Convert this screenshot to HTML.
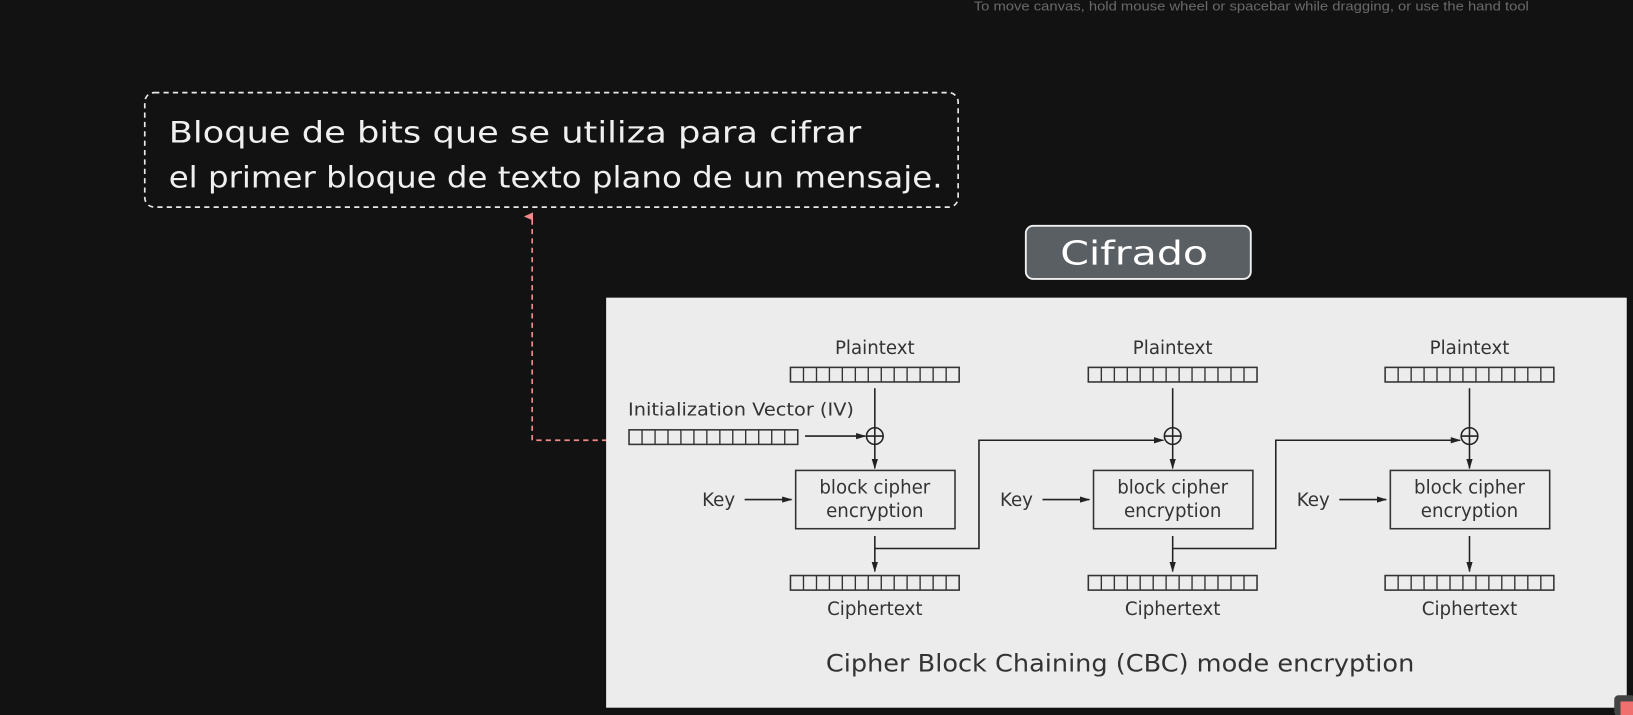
<!DOCTYPE html>
<html><head><meta charset="utf-8"><style>
html,body{margin:0;padding:0;background:#121212;overflow:hidden}
svg{display:block}
</style></head><body>
<svg width="1633" height="715" viewBox="0 0 1568 687" preserveAspectRatio="none" xmlns="http://www.w3.org/2000/svg">
<defs>
<marker id="a" markerWidth="10" markerHeight="8" refX="9" refY="4" orient="auto" markerUnits="userSpaceOnUse"><path d="M0,1 L10,4 L0,7 z" fill="#222"/></marker>
<marker id="r" markerWidth="10" markerHeight="10" refX="5" refY="9" orient="auto-start-reverse" markerUnits="userSpaceOnUse"><path d="M1,10 L5,1 L9,10 z" fill="#f08a8a"/></marker>
<g id="reg"><rect x="0" y="0" width="162" height="14" fill="none" stroke="#333" stroke-width="1.5"/>
<path d="M12.5,0v14M25,0v14M37.4,0v14M49.8,0v14M62.3,0v14M74.7,0v14M87.2,0v14M99.6,0v14M112,0v14M124.5,0v14M137,0v14M149.5,0v14" stroke="#333" stroke-width="1.3"/></g>
<g id="col" font-family="DejaVu Sans, sans-serif" font-size="17.5" fill="#333">
<text x="0" y="340" text-anchor="middle">Plaintext</text>
<use href="#reg" x="-81" y="353"/>
<line x1="0" y1="373" x2="0" y2="411" stroke="#222" stroke-width="1.5"/>
<circle cx="0" cy="419" r="8" fill="none" stroke="#222" stroke-width="1.5"/>
<line x1="-8" y1="419" x2="8" y2="419" stroke="#222" stroke-width="1.5"/>
<line x1="0" y1="411" x2="0" y2="450" stroke="#222" stroke-width="1.5" marker-end="url(#a)"/>
<rect x="-76" y="452" width="153" height="56" fill="none" stroke="#333" stroke-width="1.5"/>
<text x="0" y="474" text-anchor="middle">block cipher</text>
<text x="0" y="497" text-anchor="middle">encryption</text>
<text x="-150" y="486" text-anchor="middle">Key</text>
<line x1="-125" y1="480" x2="-80" y2="480" stroke="#222" stroke-width="1.5" marker-end="url(#a)"/>
<line x1="0" y1="515" x2="0" y2="549" stroke="#222" stroke-width="1.5" marker-end="url(#a)"/>
<use href="#reg" x="-81" y="553"/>
<text x="0" y="591" text-anchor="middle">Ciphertext</text>
</g>
</defs>
<text x="935" y="10" font-family="Liberation Sans, sans-serif" font-size="12" fill="#6a6a6a" textLength="533" lengthAdjust="spacingAndGlyphs">To move canvas, hold mouse wheel or spacebar while dragging, or use the hand tool</text>
<rect x="139" y="89" width="781" height="110" rx="9" fill="none" stroke="#e8e8e8" stroke-width="1.6" stroke-dasharray="5,4"/>
<text x="162" y="137" font-family="DejaVu Sans, sans-serif" font-size="28" fill="#f0f0f0" textLength="665" lengthAdjust="spacingAndGlyphs">Bloque de bits que se utiliza para cifrar</text>
<text x="162" y="180" font-family="DejaVu Sans, sans-serif" font-size="28" fill="#f0f0f0" textLength="743" lengthAdjust="spacingAndGlyphs">el primer bloque de texto plano de un mensaje.</text>
<path d="M583,423 H511 V208" fill="none" stroke="#f08a8a" stroke-width="1.6" stroke-dasharray="5,4" marker-end="url(#r)"/>
<rect x="985" y="217" width="216" height="51" rx="7" fill="#5a5f63" stroke="#f0f0f0" stroke-width="1.8"/>
<text x="1018" y="254" font-family="DejaVu Sans, sans-serif" font-size="32" fill="#fff" textLength="142" lengthAdjust="spacingAndGlyphs">Cifrado</text>
<rect x="582" y="286" width="980" height="394" fill="#ececec"/>
<use href="#col" x="840"/>
<use href="#col" x="1126"/>
<use href="#col" x="1411"/>
<text x="603" y="399" font-family="DejaVu Sans, sans-serif" font-size="17" fill="#333" textLength="217" lengthAdjust="spacingAndGlyphs">Initialization Vector (IV)</text>
<use href="#reg" x="604" y="413"/>
<line x1="773" y1="419" x2="831" y2="419" stroke="#222" stroke-width="1.5" marker-end="url(#a)"/>
<path d="M840,527 H940 V423 H1117" fill="none" stroke="#222" stroke-width="1.5" marker-end="url(#a)"/>
<path d="M1126,527 H1225 V423 H1402" fill="none" stroke="#222" stroke-width="1.5" marker-end="url(#a)"/>
<text x="793" y="645" font-family="DejaVu Sans, sans-serif" font-size="23" fill="#333" textLength="565" lengthAdjust="spacingAndGlyphs">Cipher Block Chaining (CBC) mode encryption</text>
<rect x="1550" y="668" width="20" height="20" rx="4" fill="#444"/>
<rect x="1556" y="674" width="14" height="14" fill="#f07070"/>
</svg>
</body></html>
